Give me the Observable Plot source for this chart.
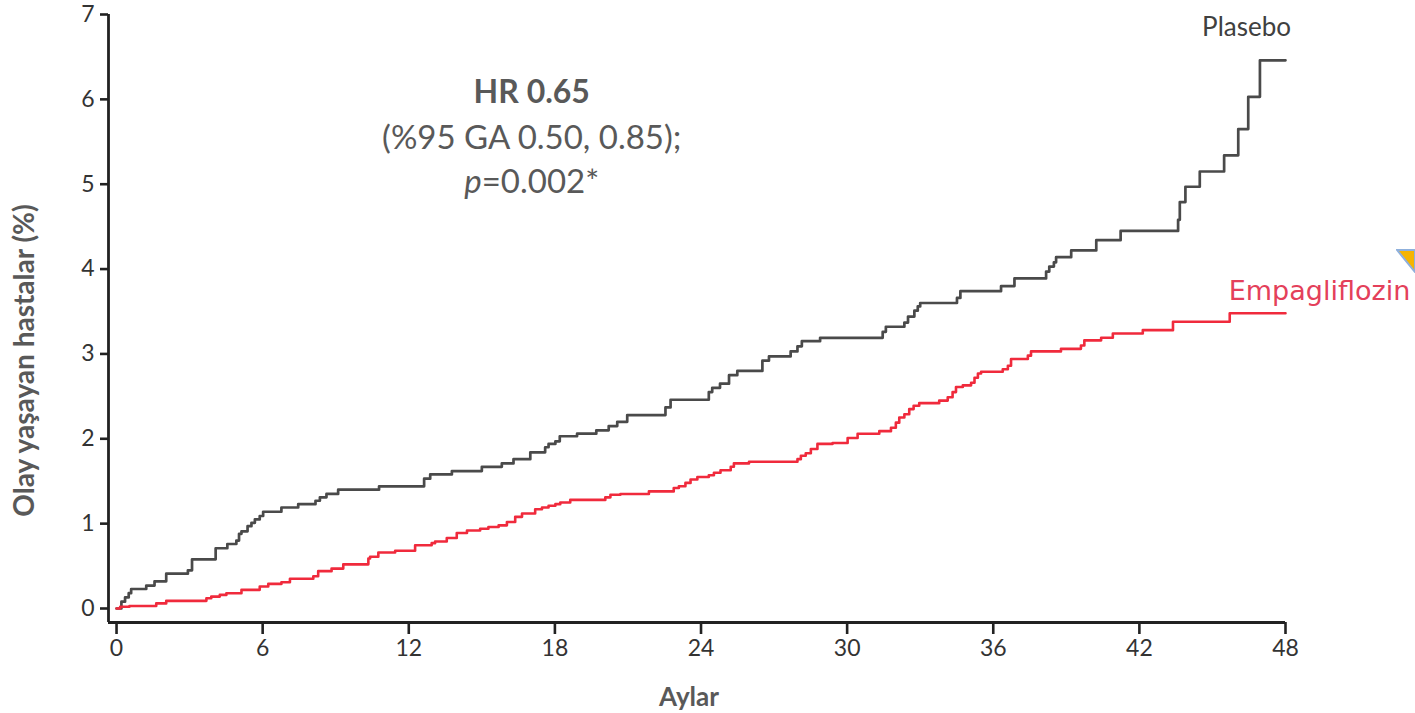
<!DOCTYPE html>
<html>
<head>
<meta charset="utf-8">
<script src="https://cdn.jsdelivr.net/npm/d3@7"></script>
<script src="https://cdn.jsdelivr.net/npm/@observablehq/plot@0.6"></script>
<style>
  html, body { margin: 0; padding: 0; background: #fff; }
  #wrap { position: relative; width: 1415px; height: 713px; overflow: hidden; }
  #deco { position: absolute; left: 1396px; top: 249px; }
</style>
</head>
<body>
<div id="wrap"></div>
<script>
// ---- data (months, cumulative % with event) ----
const plaseboMonths = [0,0.2,0.35,0.5,0.6,1.22,1.56,2.04,2.93,3.10,4.07,4.55,4.92,5.03,5.13,5.38,5.54,5.68,5.88,6.02,6.77,7.46,8.17,8.35,8.62,9.10,10.78,12.63,12.88,13.77,15.00,15.82,16.30,16.99,17.60,17.74,18.02,18.20,18.91,19.70,20.21,20.56,20.97,22.54,22.75,24.32,24.46,24.78,25.15,25.49,26.52,26.79,27.68,27.96,28.14,28.89,31.46,31.59,32.35,32.50,32.76,32.90,33.00,34.51,34.65,36.32,36.87,38.17,38.30,38.49,38.58,39.20,40.23,41.23,43.59,43.66,43.89,44.48,45.48,46.06,46.47,46.95,48.0];
const plaseboValues = [0,0.08,0.13,0.18,0.23,0.27,0.32,0.41,0.45,0.58,0.71,0.76,0.80,0.88,0.91,0.97,1.01,1.05,1.09,1.14,1.19,1.23,1.27,1.31,1.35,1.40,1.44,1.53,1.58,1.62,1.67,1.71,1.76,1.84,1.90,1.94,1.97,2.03,2.06,2.10,2.15,2.20,2.28,2.37,2.46,2.55,2.60,2.65,2.75,2.80,2.92,2.97,3.03,3.09,3.15,3.19,3.26,3.32,3.37,3.44,3.51,3.56,3.60,3.66,3.74,3.80,3.89,3.97,4.03,4.08,4.14,4.22,4.34,4.45,4.58,4.79,4.97,5.15,5.34,5.65,6.03,6.46,6.46];

const empaMonths = [0,0.15,0.53,1.63,2.04,3.69,3.89,4.24,4.51,5.13,5.88,6.23,6.77,7.12,8.08,8.28,8.83,9.31,10.34,10.41,10.75,11.44,12.26,12.94,13.08,13.56,13.97,14.39,14.93,15.27,15.69,16.03,16.37,16.65,17.19,17.47,17.74,18.02,18.22,18.63,20.07,20.28,20.69,21.86,22.88,23.09,23.36,23.57,23.85,24.32,24.53,24.80,25.22,25.35,25.97,27.96,28.10,28.30,28.51,28.78,29.40,30.02,30.43,31.32,31.80,32.00,32.14,32.35,32.55,32.73,32.96,33.78,34.13,34.33,34.47,34.75,35.09,35.23,35.37,35.50,36.39,36.60,36.73,37.42,37.55,38.78,39.60,39.74,40.43,40.91,42.14,43.38,45.71,48.0];
const empaValues = [0,0.02,0.03,0.06,0.09,0.12,0.14,0.16,0.18,0.22,0.26,0.29,0.31,0.35,0.38,0.44,0.47,0.52,0.59,0.61,0.66,0.68,0.745,0.77,0.79,0.83,0.89,0.92,0.94,0.96,0.98,1.02,1.08,1.12,1.17,1.19,1.21,1.23,1.25,1.28,1.31,1.34,1.35,1.38,1.42,1.44,1.48,1.52,1.55,1.57,1.60,1.63,1.67,1.71,1.73,1.76,1.80,1.83,1.88,1.94,1.95,2.01,2.06,2.09,2.13,2.19,2.25,2.29,2.35,2.39,2.42,2.45,2.49,2.55,2.61,2.63,2.66,2.72,2.77,2.79,2.82,2.86,2.94,2.98,3.03,3.06,3.10,3.16,3.19,3.24,3.28,3.38,3.48,3.48];

const xTicks = [0, 6, 12, 18, 24, 30, 36, 42, 48];
const yTicks = [0, 1, 2, 3, 4, 5, 6, 7];
const seriesNames = ["Plasebo", "Empagliflozin"];
const statLines = ["HR 0.65", "(%95 GA 0.50, 0.85);", "p=0.002*"];
const xTitle = "Aylar";
const yTitle = "Olay yaşayan hastalar (%)";

// ---- build tables ----
const plasebo = plaseboMonths.map((m, i) => ({month: m, value: plaseboValues[i]}));
const empa = empaMonths.map((m, i) => ({month: m, value: empaValues[i]}));

const xDomain = [-0.33, 48];
const yDomain = [-0.165, 7];
const grey = "#595959";
const red = "#f02a3c";

// annotation anchor positions (data coordinates)
const statX = 17.05;
const statY = [5.955, 5.42, 4.9];

const chart = Plot.plot({
  width: 1415,
  height: 713,
  marginLeft: 108,
  marginRight: 130,
  marginTop: 14,
  marginBottom: 91,
  x: {domain: xDomain},
  y: {domain: yDomain},
  style: {fontFamily: "Lato, sans-serif", background: "white", overflow: "visible"},
  marks: [
    Plot.axisX({ticks: xTicks, tickSize: 12, tickPadding: 5, fontSize: 23, stroke: "#222", strokeWidth: 2.6, fill: "#333", label: null}),
    Plot.axisY({ticks: yTicks, tickSize: 8, tickPadding: 6, fontSize: 23, stroke: "#222", strokeWidth: 2.6, fill: "#333", label: null}),
    Plot.ruleY([yDomain[0]], {stroke: "#222", strokeWidth: 2.8}),
    Plot.ruleX([xDomain[0]], {stroke: "#222", strokeWidth: 2.8}),
    Plot.line(plasebo, {x: "month", y: "value", curve: "step-after", stroke: "#4a4a4a", strokeWidth: 2.7}),
    Plot.line(empa, {x: "month", y: "value", curve: "step-after", stroke: red, strokeWidth: 2.6}),
    // stats annotation
    Plot.text([statLines[0]], {x: () => statX, y: () => statY[0], text: d => d, fontWeight: "bold", fontSize: 32, fill: grey, textAnchor: "middle", lineAnchor: "bottom"}),
    Plot.text([statLines[1]], {x: () => statX, y: () => statY[1], text: d => d, fontSize: 33, fill: grey, textAnchor: "middle", lineAnchor: "bottom"}),
    Plot.text([statLines[2]], {x: () => statX, y: () => statY[2], text: d => d, fontSize: 33, fill: grey, textAnchor: "middle", lineAnchor: "bottom"}),
    // series labels
    Plot.text([seriesNames[0]], {x: () => 46.4, y: () => 6.75, text: d => d, fontSize: 26, fill: "#404040", textAnchor: "middle", lineAnchor: "bottom"}),
    Plot.text([seriesNames[1]], {x: () => 45.67, y: () => 3.63, text: d => d, fontSize: 27, fill: "#e4405a", textAnchor: "start", lineAnchor: "bottom", fontFamily: "DejaVu Sans"}),
    // axis titles
    Plot.text([xTitle], {frameAnchor: "bottom", dx: -8, dy: 83, text: d => d, fontWeight: "bold", fontSize: 26, fill: grey, textAnchor: "middle", lineAnchor: "bottom"}),
    Plot.text([yTitle], {frameAnchor: "left", rotate: -90, dx: -75, dy: 42, text: d => d, fontWeight: "bold", fontSize: 28, fill: grey, textAnchor: "middle", lineAnchor: "bottom"})
  ]
});

// italic "p"
d3.select(chart).selectAll("text").filter(function() { return this.textContent === statLines[2]; }).each(function() {
  const t = d3.select(this);
  t.text(null);
  t.append("tspan").attr("font-style", "italic").text("p");
  t.append("tspan").text("=0.002*");
});

const wrap = document.getElementById("wrap");
wrap.appendChild(chart);

// small decorative corner marker seen at the right edge
const deco = document.createElementNS("http://www.w3.org/2000/svg", "svg");
deco.setAttribute("id", "deco");
deco.setAttribute("width", "19");
deco.setAttribute("height", "24");
deco.innerHTML = '<polygon points="1,1 19,1 19,23" fill="#f5b400" stroke="#8fb0dc" stroke-width="2"/>';
wrap.appendChild(deco);
</script>
</body>
</html>
